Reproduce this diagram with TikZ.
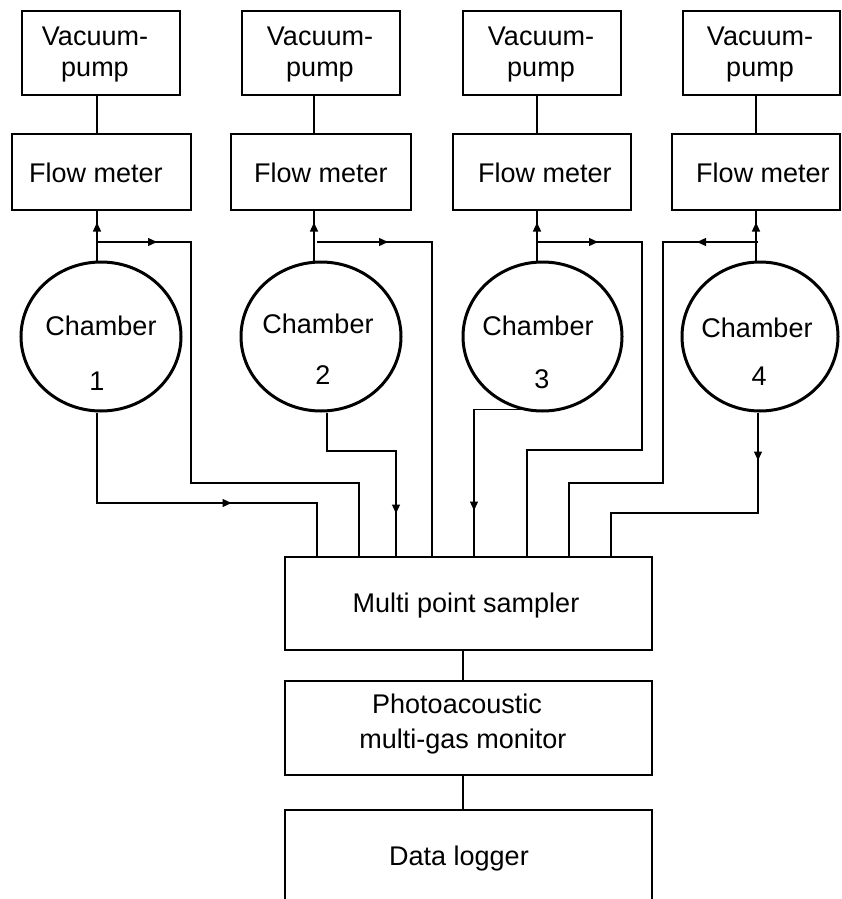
\documentclass[tikz,border=0pt]{standalone}
\usepackage{fontspec}
\setmainfont{Liberation Sans}
\usetikzlibrary{arrows.meta,shapes.geometric,decorations.markings}

\begin{document}
\begin{tikzpicture}[x=1pt,y=-1pt,
  box/.style={draw, line width=1.3pt, inner sep=0pt, minimum width=#1},
  chamber/.style={draw, ellipse, line width=3pt, inner sep=0pt,
                  minimum width=#1, minimum height=149pt},
  wire/.style={line width=1.3pt},
  arr/.style={postaction={decorate, decoration={markings,
              mark=at position #1 with {\arrow{Triangle[length=9pt,width=8pt]}}}}},
  lbl/.style={font=\fontsize{27}{30}\selectfont, inner sep=0pt, anchor=base}
]
\fill[white] (0,0) rectangle (841,899);
\useasboundingbox (0,0) rectangle (841,899);

% column positions of the pump lines
\coordinate (c1) at (97,0);
\coordinate (c2) at (314,0);
\coordinate (c3) at (537,0);
\coordinate (c4) at (756,0);
\coordinate (m)  at (463,0);

% vacuum pumps
\node[box=158pt, minimum height=84pt] (vp1) at (101,53) {};
\node[box=158pt, minimum height=84pt] (vp2) at (321,53) {};
\node[box=158pt, minimum height=84pt] (vp3) at (542,53) {};
\node[box=157pt, minimum height=84pt] (vp4) at (761.5,53) {};
\foreach \n/\x in {1/95,2/320,3/541,4/760}{
  \node[lbl] (vpa\n) at (\x,46) {Vacuum-};
  \node[lbl] (vpb\n) at (\x,76) {pump};
}

% flow meters
\node[box=179pt, minimum height=76pt] (fm1) at (101.5,172) {};
\node[box=180pt, minimum height=76pt] (fm2) at (321,172) {};
\node[box=178pt, minimum height=76pt] (fm3) at (542,172) {};
\node[box=168pt, minimum height=76pt] (fm4) at (756,172) {};
\node[lbl] (fmt1) at (96,182) {Flow meter};
\node[lbl] (fmt2) at (321,182) {Flow meter};
\node[lbl] (fmt3) at (545,182) {Flow meter};
\node[lbl] (fmt4) at (763,182) {Flow meter};

% chambers
\node[chamber=160pt] (ch1) at (101,336.5) {};
\node[chamber=160pt] (ch2) at (321,336.5) {};
\node[chamber=159pt] (ch3) at (542.5,336.5) {};
\node[chamber=156pt] (ch4) at (760,336.5) {};
\node[lbl] (cht1) at (101,335) {Chamber};
\node[lbl] (cht2) at (318,333) {Chamber};
\node[lbl] (cht3) at (538,335) {Chamber};
\node[lbl] (cht4) at (757,337) {Chamber};
\node[lbl] (chn1) at (97,390) {1};
\node[lbl] (chn2) at (323,384) {2};
\node[lbl] (chn3) at (542,388) {3};
\node[lbl] (chn4) at (759,385) {4};

% analysis chain
\node[box=367pt, minimum height=93pt] (smp) at (468.5,603.5) {};
\node[box=367pt, minimum height=94pt] (pam) at (468.5,728) {};
\node[box=367pt, minimum height=100pt] (log) at (468.5,860) {};
\node[lbl] (smpt) at (466,612) {Multi point sampler};
\node[lbl] (pamt1) at (457,713) {Photoacoustic};
\node[lbl] (pamt2) at (463,748) {multi-gas monitor};
\node[lbl] (logt) at (459,865) {Data logger};

% pump to flow meter, chamber outlet to flow meter
\foreach \i in {1,2,3,4}{
  \draw[wire] (vp\i.south -| c\i) -- (fm\i.north -| c\i);
  \draw[wire, arr=38pt] (ch\i.north -| c\i) -- (fm\i.south -| c\i);
}

% junctions on the chamber outlets
\coordinate (j1) at (97,242);
\coordinate (j2) at (317,242);
\coordinate (j3) at (537,242);
\coordinate (j4) at (758,242);

% sample lines from the chamber outlets
\draw[wire, arr=60pt] (j1) -- (191,242) -- (191,483) -- (359,483) -- (smp.north -| 359,0);
\draw[wire, arr=71pt] (j2) -- (432,242) -- (smp.north -| 432,0);
\draw[wire, arr=61pt] (j3) -- (642,242) -- (642,450) -- (527,450) -- (smp.north -| 527,0);
\draw[wire, arr=61pt] (j4) -- (663,242) -- (663,483) -- (569,483) -- (smp.north -| 569,0);

% sample lines from the chamber bottoms
\draw[wire, arr=225pt] (ch1.south -| c1) -- (97,503) -- (317,503) -- (smp.north -| 317,0);
\draw[wire, arr=170pt] (ch2.south -| 327,0) -- (327,451) -- (396,451) -- (smp.north -| 396,0);
\draw[wire, arr=160pt] ([xshift=-9.5pt,yshift=3pt]ch3.south) -| (smp.north -| 474,0);
\draw[wire, arr=48pt] (ch4.south -| 758,0) -- (758,513) -- (611,513) -- (smp.north -| 611,0);

% sampler to monitor to logger
\draw[wire] (smp.south -| m) -- (pam.north -| m);
\draw[wire] (pam.south -| m) -- (log.north -| m);
\end{tikzpicture}
\end{document}
